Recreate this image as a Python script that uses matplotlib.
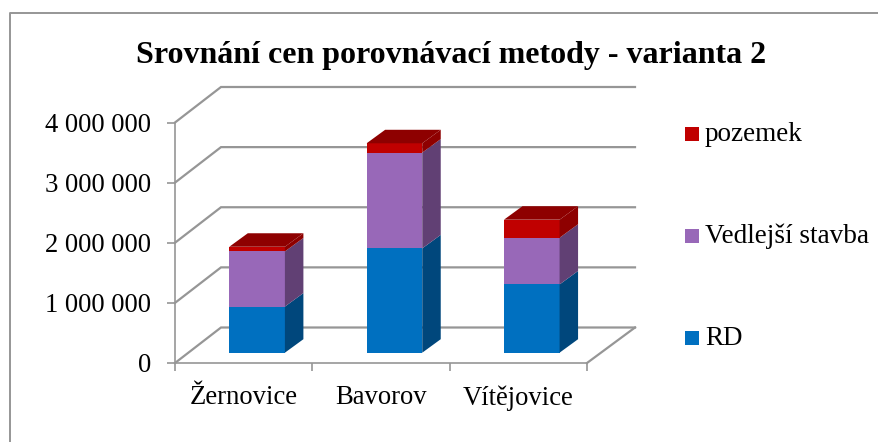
import numpy as np
import matplotlib.pyplot as plt
from matplotlib.patches import Polygon, Rectangle
from matplotlib.lines import Line2D

# Values
mista = ['Žernovice', 'Bavorov', 'Vítějovice']
rd = [767000, 1735000, 1135000]
vedlejsi = [917000, 1593000, 777000]
pozemek = [78000, 155000, 300000]
y_ticks = [0, 1000000, 2000000, 3000000, 4000000]
y_labels = ['0', '1 000 000', '2 000 000', '3 000 000', '4 000 000']

plt.rcParams['font.family'] = 'Liberation Serif'

GRAY = '#969696'
BLUE = ('#0070C0', '#00477C')
PURPLE = ('#9868B8', '#614074')
RED = ('#C00000', '#8E0000')

W, H = 879, 442
fig = plt.figure(figsize=(W / 100, H / 100), dpi=100)
ax = fig.add_axes([175 / W, (H - 363) / H, 412 / W, 240.5 / H])
ax.set_xlim(-0.5, 2.5)
ax.set_ylim(0, 4000000)

# pixel sizes converted to data units
px_x = 3 / 412
px_y = 4000000 / 240.5
back_dx, back_dy = 48 * px_x, 35.5 * px_y
bar_dx, bar_dy = 18.5 * px_x, 13.5 * px_y
gap_y = 10.3 * px_y
bar_w = 55.6 * px_x

# back wall gridlines, side wall and floor
for v in y_ticks:
    ax.plot([-0.5, -0.5 + 46 * px_x, 2.5 + back_dx], [v, v + back_dy, v + back_dy],
            color=GRAY, lw=1.6, clip_on=False, zorder=1, solid_joinstyle='miter')
ax.plot([2.5, 2.5 + back_dx], [0, back_dy], color=GRAY, lw=1.6, clip_on=False, zorder=1)


def draw_seg(x0, y0, h, cols, top=False):
    x1 = x0 + bar_w
    ax.add_patch(Rectangle((x0, y0), bar_w, h, fc=cols[0], ec='none', clip_on=False, zorder=3))
    side = [(x1, y0), (x1 + bar_dx, y0 + bar_dy), (x1 + bar_dx, y0 + h + bar_dy), (x1, y0 + h)]
    ax.add_patch(Polygon(side, fc=cols[1], ec='none', clip_on=False, zorder=3))
    if top:
        roof = [(x0, y0 + h), (x0 + bar_dx, y0 + h + bar_dy),
                (x1 + bar_dx, y0 + h + bar_dy), (x1, y0 + h)]
        ax.add_patch(Polygon(roof, fc=cols[1], ec='none', clip_on=False, zorder=3))


for i in range(len(mista)):
    x0 = i - 0.5 + 54.3 * px_x
    draw_seg(x0, gap_y, rd[i], BLUE)
    draw_seg(x0, gap_y + rd[i], vedlejsi[i], PURPLE)
    draw_seg(x0, gap_y + rd[i] + vedlejsi[i], pozemek[i], RED, top=True)

# axes
for s in ['top', 'right']:
    ax.spines[s].set_visible(False)
for s in ['left', 'bottom']:
    ax.spines[s].set_color(GRAY)
    ax.spines[s].set_linewidth(1.2)
    ax.spines[s].set_zorder(2)
ax.set_yticks(y_ticks, y_labels)
ax.set_xticks([-0.5, 0.5, 1.5, 2.5], [])
ax.set_xticks([0, 1, 2], mista, minor=True)
ax.tick_params(axis='y', length=5.8, width=1.2, color=GRAY, labelsize=19.2, pad=11.5)
ax.tick_params(axis='x', which='major', length=5.8, width=1.2, color=GRAY)
ax.tick_params(axis='x', which='minor', length=0, labelsize=19.2, pad=16)

# title
fig.text(451 / W, 1 - 55.5 / H, 'Srovnání cen porovnávací metody - varianta 2',
         ha='center', va='center', fontsize=23, fontweight='bold', color='black')

# legend
for label, col, y in [('pozemek', RED[0], 134), ('Vedlejší stavba', PURPLE[0], 236), ('RD', BLUE[0], 338)]:
    fig.add_artist(Rectangle((685 / W, 1 - (y + 7) / H), 14 / W, 14 / H, fc=col, ec='none',
                             transform=fig.transFigure))
    fig.text(705 / W, 1 - (y + 7) / H, label, ha='left', va='baseline', fontsize=19.5, color='black')

# outer frame
fig.add_artist(Line2D([10 / W, 10 / W, 1], [0, 1 - 12.5 / H, 1 - 12.5 / H],
                      color=GRAY, lw=1.4, transform=fig.transFigure))

plt.savefig('out.png', dpi=100)
